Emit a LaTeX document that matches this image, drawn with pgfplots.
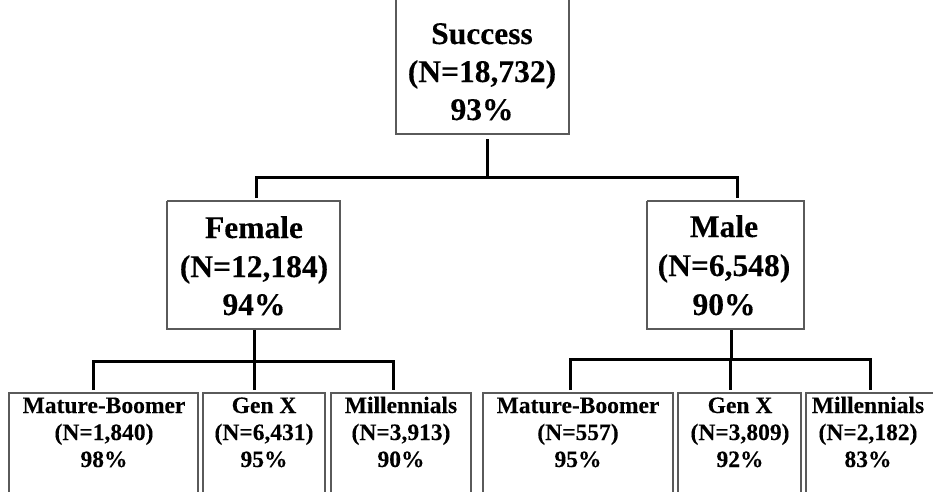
\documentclass[border=0pt]{standalone}
\usepackage{pgfplots}
\pgfplotsset{compat=1.18}
\usepackage{fontspec}
\setmainfont{Liberation Serif}[BoldFeatures={FakeBold=0.2}]
\definecolor{boxgray}{HTML}{5A5A5A}
\newcommand{\BL}[3]{\node[anchor=base,inner sep=0pt,font=\bfseries\fontsize{31.5}{33}\selectfont] at (axis cs:#1,#2) {#3};}
\newcommand{\SL}[3]{\node[anchor=base,inner sep=0pt,font=\bfseries\fontsize{23.5}{25}\selectfont] at (axis cs:#1,#2) {#3};}
\begin{document}
\begin{tikzpicture}
\begin{axis}[width=933pt,height=491pt,scale only axis,xmin=0,xmax=933,ymin=0,ymax=491,
  y dir=reverse,axis lines=none,clip=true]
% boxes
\addplot[draw=boxgray, line width=1.2pt] coordinates {(396,-5) (396,134) (569,134) (569,-5)};
\addplot[draw=boxgray, line width=1.2pt] coordinates {(167,201) (340,201) (340,329) (167,329) (167,201)};
\addplot[draw=boxgray, line width=1.2pt] coordinates {(647,201) (804,201) (804,329) (647,329) (647,201)};
\addplot[draw=boxgray, line width=1.2pt] coordinates {(9,500) (9,393) (198,393) (198,500)};
\addplot[draw=boxgray, line width=1.2pt] coordinates {(203,500) (203,393) (325,393) (325,500)};
\addplot[draw=boxgray, line width=1.2pt] coordinates {(331,500) (331,393) (471,393) (471,500)};
\addplot[draw=boxgray, line width=1.2pt] coordinates {(483,500) (483,393) (673,393) (673,500)};
\addplot[draw=boxgray, line width=1.2pt] coordinates {(678,500) (678,393) (801,393) (801,500)};
\addplot[draw=boxgray, line width=1.2pt] coordinates {(806,500) (806,393) (945,393) (945,500)};
% connectors
\addplot[black, line width=3pt] coordinates {(487,139) (487,177)};
\addplot[black, line width=3pt] coordinates {(256,198) (256,177) (737,177) (737,198)};
\addplot[black, line width=3pt] coordinates {(254,330) (254,361)};
\addplot[black, line width=3pt] coordinates {(93,390) (93,361) (393,361) (393,390)};
\addplot[black, line width=3pt] coordinates {(254,361) (254,390)};
\addplot[black, line width=3pt] coordinates {(731,330) (731,359)};
\addplot[black, line width=3pt] coordinates {(570,390) (570,359) (870,359) (870,390)};
\addplot[black, line width=3pt] coordinates {(730,359) (730,390)};
% labels
\BL{482}{44}{Success}
\BL{482}{82}{(N=18,732)}
\BL{482}{120}{93\%}
\BL{254}{238}{Female}
\BL{254}{277}{(N=12,184)}
\BL{254}{315}{94\%}
\BL{724}{237}{Male}
\BL{724}{276}{(N=6,548)}
\BL{724}{315}{90\%}
\SL{104}{413}{Mature-Boomer}
\SL{104}{440}{(N=1,840)}
\SL{104}{467}{98\%}
\SL{264}{413}{Gen X}
\SL{264}{440}{(N=6,431)}
\SL{264}{467}{95\%}
\SL{401}{413}{Millennials}
\SL{401}{440}{(N=3,913)}
\SL{401}{467}{90\%}
\SL{578}{413}{Mature-Boomer}
\SL{578}{440}{(N=557)}
\SL{578}{467}{95\%}
\SL{740}{413}{Gen X}
\SL{740}{440}{(N=3,809)}
\SL{740}{467}{92\%}
\SL{868}{413}{Millennials}
\SL{868}{440}{(N=2,182)}
\SL{868}{467}{83\%}
\end{axis}
\pgfresetboundingbox
\path[use as bounding box] (0,0) rectangle (933pt,491pt);
\end{tikzpicture}
\end{document}
